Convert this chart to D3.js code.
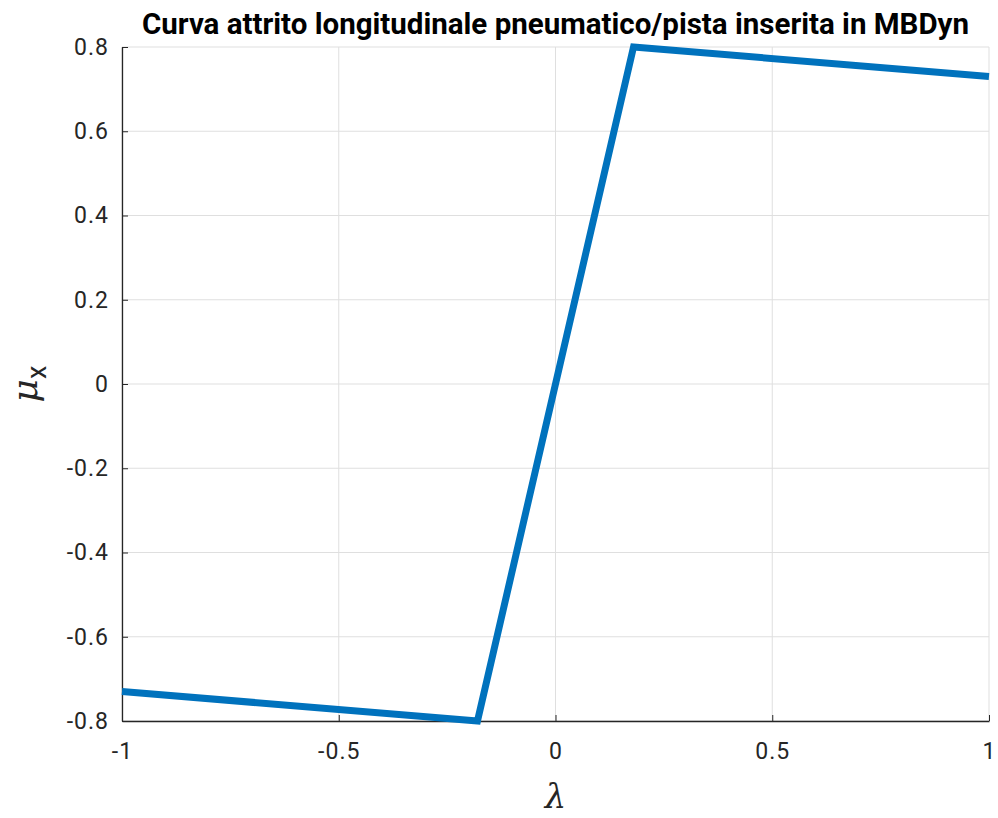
<!DOCTYPE html>
<html>
<head>
<meta charset="utf-8">
<script src="https://d3js.org/d3.v7.min.js"></script>
<style>
body { margin: 0; background: #fff; }
svg { display: block; }
.tick text { font-family: Roboto, sans-serif; font-size: 23px; letter-spacing: 1px; fill: #262626; }
</style>
</head>
<body>
<svg width="998" height="818"></svg>
<script>
// curva attrito: lambda -> mu_x
var lambda = [-1, -0.18, 0.18, 1];
var mu = [-0.73, -0.8, 0.8, 0.73];
var xTicks = [-1, -0.5, 0, 0.5, 1];
var yTicks = [-0.8, -0.6, -0.4, -0.2, 0, 0.2, 0.4, 0.6, 0.8];

var svg = d3.select("svg"),
    pLeft = 122, pRight = 989, pTop = 47, pBottom = 721;

var x = d3.scaleLinear().domain([-1, 1]).range([pLeft, pRight]);
var y = d3.scaleLinear().domain([-0.8, 0.8]).range([pBottom, pTop]);

var fmt = function(d) { return d === 0 ? "0" : String(d); };

// grid
svg.append("g").selectAll("line")
  .data(xTicks).enter().append("line")
    .attr("x1", d => x(d)).attr("x2", d => x(d))
    .attr("y1", pTop).attr("y2", pBottom)
    .attr("stroke", "#dfdfdf").attr("stroke-width", 1);
svg.append("g").selectAll("line")
  .data(yTicks).enter().append("line")
    .attr("x1", pLeft).attr("x2", pRight)
    .attr("y1", d => y(d)).attr("y2", d => y(d))
    .attr("stroke", "#dfdfdf").attr("stroke-width", 1);

// axes (ticks inside)
var xAxis = svg.append("g").attr("transform", "translate(0," + pBottom + ")")
  .call(d3.axisBottom(x).tickValues(xTicks).tickFormat(fmt).tickSizeInner(-6).tickSizeOuter(0).tickPadding(22));
var yAxis = svg.append("g").attr("transform", "translate(" + pLeft + ",0)")
  .call(d3.axisLeft(y).tickValues(yTicks).tickFormat(fmt).tickSizeInner(-6).tickSizeOuter(0).tickPadding(13));
[xAxis, yAxis].forEach(function(a) {
  a.select(".domain").attr("stroke", "#262626").attr("stroke-width", 1.3);
  a.selectAll(".tick line").attr("stroke", "#262626").attr("stroke-width", 1);
});

// line
var line = d3.line().x((d, i) => x(lambda[i])).y(d => y(d));
svg.append("path")
  .datum(mu)
  .attr("d", line)
  .attr("fill", "none")
  .attr("stroke", "#0072BD")
  .attr("stroke-width", 7)
  .attr("stroke-linejoin", "miter");

// title
svg.append("text")
  .attr("x", (pLeft + pRight) / 2).attr("y", 34)
  .attr("text-anchor", "middle")
  .style("font-family", "Roboto, sans-serif")
  .style("font-weight", "bold")
  .style("font-size", "29.5px")
  .attr("fill", "#000")
  .text("Curva attrito longitudinale pneumatico/pista inserita in MBDyn");

// x label
svg.append("text")
  .attr("x", (pLeft + pRight) / 2).attr("y", 808)
  .attr("text-anchor", "middle")
  .style("font-family", "'DejaVu Serif', serif")
  .style("font-style", "italic")
  .style("font-size", "34px")
  .attr("fill", "#262626")
  .text("λ");

// y label
var yl = svg.append("text")
  .attr("transform", "translate(37," + y(0) + ") rotate(-90)")
  .attr("text-anchor", "middle")
  .style("font-family", "'DejaVu Serif', serif")
  .style("font-size", "36px")
  .attr("fill", "#262626");
yl.append("tspan").style("font-style", "italic").text("μ");
yl.append("tspan").attr("dy", 9).style("font-family", "Roboto, sans-serif").style("font-size", "27px").text("x");
</script>
</body>
</html>
